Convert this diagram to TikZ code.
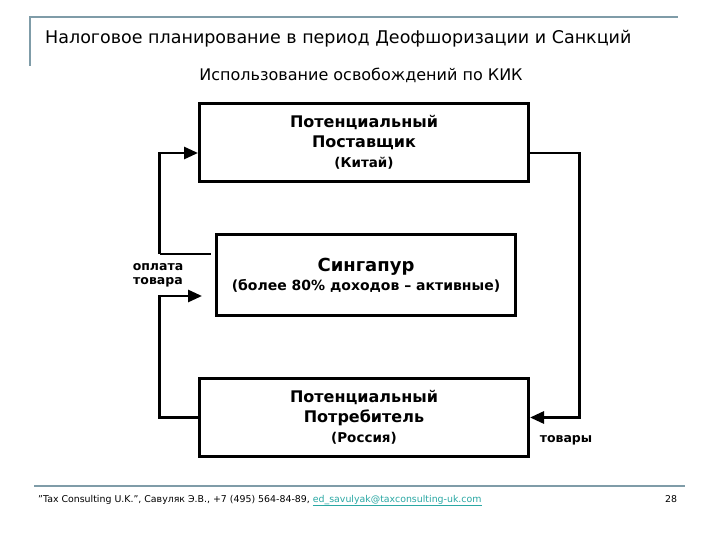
\documentclass[tikz,border=0pt]{standalone}
\usepackage{fontspec}
\setmainfont{DejaVu Sans}
\usetikzlibrary{arrows.meta}
\definecolor{framec}{HTML}{7F9CA8}
\definecolor{linkc}{HTML}{2AA8A4}
\begin{document}
\begin{tikzpicture}[x=1pt,y=-1pt,
  box/.style={draw, line width=3pt, minimum width=329pt, minimum height=78pt, align=center, inner sep=0pt, font=\bfseries\fontsize{16}{20}\selectfont},
  conn/.style={line width=2.8pt},
  arr/.style={conn, -{Triangle[length=14pt,width=12pt]}},
  lbl/.style={font=\bfseries\fontsize{12.5}{14}\selectfont, align=center, inner sep=0pt}]
\useasboundingbox (0,0) rectangle (720,540);
\fill[white] (0,0) rectangle (720,540);
% title frame
\draw[framec, line width=2pt] (30,66) -- (30,17) -- (678,17);
\node[anchor=base west, inner sep=0pt, font=\fontsize{17.5}{20}\selectfont] (title) at (45,44) {Налоговое планирование в период Деофшоризации и Санкций};
\node[anchor=base, inner sep=0pt, font=\fontsize{16}{18}\selectfont] (sub) at (361,81) {Использование освобождений по КИК};
% boxes
\node[box] (top) at (364,142.5) {Потенциальный\\Поставщик\\{\fontsize{13.5}{20}\selectfont (Китай)}};
\node[box, minimum width=299pt, minimum height=81pt, font=\bfseries\fontsize{14}{19}\selectfont] (mid) at (366,275) {{\fontsize{18}{19}\selectfont Сингапур}\\(более 80\% доходов – активные)};
\node[box] (bot) at (364,417.5) {Потенциальный\\Потребитель\\{\fontsize{13.5}{20}\selectfont (Россия)}};
% connectors
\draw[conn] ([xshift=-4.5pt,yshift=21pt]mid.west) -- ++(-51,0) coordinate (lu);
\draw[arr] (lu) |- ([yshift=-10.5pt]top.west);
\draw[arr] (bot.west) -- ++(-38.5,0) |- ([xshift=-13pt,yshift=-21pt]mid.west);
\draw[arr] ([yshift=-10.5pt]top.east) -- ++(49.5,0) |- (bot.east);
% labels
\node[lbl] (pay) at (158,275) {оплата\\товара};
\node[lbl] (goods) at (566,440) {товары};
% footer
\draw[framec, line width=2pt] (34,486) -- (685,486);
\node[anchor=base west, inner sep=0pt, font=\fontsize{9.4}{11}\selectfont] (foot) at (38,502) {"Tax Consulting U.K.", Савуляк Э.В., +7 (495) 564-84-89, \textcolor{linkc}{\underline{ed\_savulyak@taxconsulting-uk.com}}};
\node[anchor=base, inner sep=0pt, font=\fontsize{9.4}{11}\selectfont] (page) at (671,502) {28};
\end{tikzpicture}
\end{document}
